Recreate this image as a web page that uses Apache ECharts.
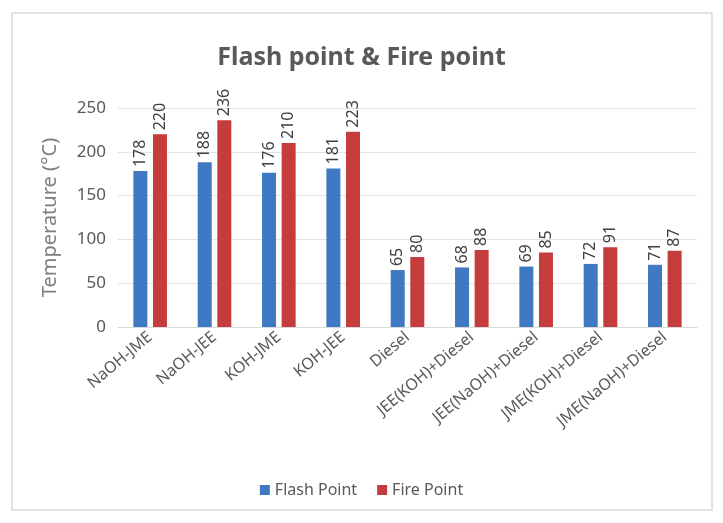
<!DOCTYPE html>
<html>
<head>
<meta charset="utf-8">
<script src="https://cdn.jsdelivr.net/npm/echarts@6/dist/echarts.min.js"></script>
<style>
  html, body { margin: 0; padding: 0; background: #fff; }
  #chart { width: 723px; height: 523px; }
</style>
</head>
<body>
<div id="chart"></div>
<script>
var FONT = "'Noto Sans', sans-serif";

// data
var categories = ['NaOH-JME', 'NaOH-JEE', 'KOH-JME', 'KOH-JEE', 'Diesel',
  'JEE(KOH)+Diesel', 'JEE(NaOH)+Diesel', 'JME(KOH)+Diesel', 'JME(NaOH)+Diesel'];
var flashPoint = [178, 188, 176, 181, 65, 68, 69, 72, 71];
var firePoint = [220, 236, 210, 223, 80, 88, 85, 91, 87];
var yTicks = { min: 0, max: 250, interval: 50 };

var chart = echarts.init(document.getElementById('chart'));

// label style shared by both series
var barLabel = {
  show: true,
  position: 'top',
  rotate: 90,
  distance: 4,
  color: '#404040',
  fontSize: 16,
  fontFamily: FONT,
  align: 'left',
  verticalAlign: 'middle'
};

var option = {
  backgroundColor: '#fff',
  animation: false,
  // outer frame of the chart
  graphic: [{
    type: 'rect',
    shape: { x: 12, y: 13, width: 700, height: 497 },
    style: { fill: 'none', stroke: '#D9D9D9', lineWidth: 1.5 },
    silent: true
  }],
  title: {
    text: 'Flash point & Fire point',
    left: 'center',
    top: 40,
    textStyle: { fontFamily: FONT, fontSize: 25, fontWeight: 'bold', color: '#595959' }
  },
  legend: {
    data: ['Flash Point', 'Fire Point'],
    bottom: 20,
    left: 'center',
    itemWidth: 10,
    itemHeight: 10,
    itemGap: 20,
    icon: 'rect',
    textStyle: { fontFamily: FONT, fontSize: 16, color: '#595959' }
  },
  grid: { left: 118, right: 26, top: 108, bottom: 196, containLabel: false },
  xAxis: {
    type: 'category',
    data: categories,
    axisLine: { lineStyle: { color: '#D9D9D9' } },
    axisTick: { show: false },
    axisLabel: {
      rotate: 40,
      interval: 0,
      margin: 8,
      color: '#595959',
      fontSize: 16,
      fontFamily: FONT
    }
  },
  yAxis: {
    type: 'value',
    min: yTicks.min,
    max: yTicks.max,
    interval: yTicks.interval,
    name: 'Temperature (°C)',
    nameLocation: 'middle',
    nameGap: 58,
    nameTextStyle: { fontFamily: FONT, fontSize: 20, color: '#7F7F7F' },
    axisLine: { show: false },
    axisTick: { show: false },
    axisLabel: { margin: 12, color: '#595959', fontSize: 17, fontFamily: FONT },
    splitLine: { lineStyle: { color: '#E3E3E3' } }
  },
  series: [
    {
      name: 'Flash Point',
      type: 'bar',
      data: flashPoint,
      barWidth: 14,
      barGap: '40%',
      itemStyle: { color: '#3F78C3' },
      label: barLabel
    },
    {
      name: 'Fire Point',
      type: 'bar',
      data: firePoint,
      barWidth: 14,
      itemStyle: { color: '#C43C3C' },
      label: barLabel
    }
  ]
};

chart.setOption(option);
</script>
</body>
</html>
